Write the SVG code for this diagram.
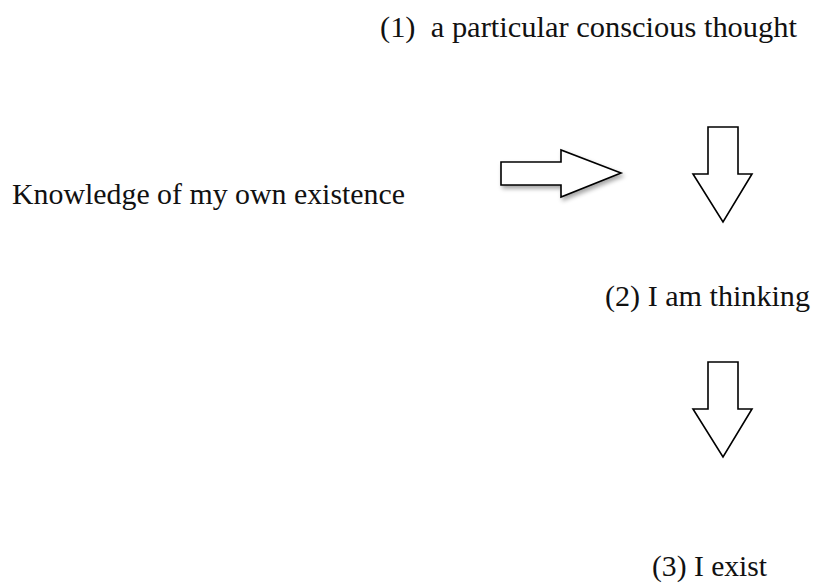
<svg xmlns="http://www.w3.org/2000/svg" width="816" height="584" viewBox="0 0 816 584">
<defs>
<style>
text{font-family:"Liberation Serif","Times New Roman",serif;font-size:29px;fill:#111;}
.arrow{fill:#fff;stroke:#000;stroke-width:1.6;stroke-linejoin:miter;}
</style>
<filter id="sh" x="-20%" y="-20%" width="150%" height="160%">
<feDropShadow dx="2" dy="3" stdDeviation="2" flood-color="#000" flood-opacity="0.35"/>
</filter>
</defs>
<rect width="816" height="584" fill="#fff"/>
<g id="n1"><text x="380" y="37" textLength="417" lengthAdjust="spacingAndGlyphs" xml:space="preserve">(1)  a particular conscious thought</text></g>
<g id="n0"><text x="12" y="204" textLength="393" lengthAdjust="spacingAndGlyphs">Knowledge of my own existence</text></g>
<g id="n2"><text x="605" y="306" textLength="205" lengthAdjust="spacingAndGlyphs">(2) I am thinking</text></g>
<g id="n3"><text x="652" y="576" textLength="115" lengthAdjust="spacingAndGlyphs">(3) I exist</text></g>
<g id="connectors">
<path class="arrow" filter="url(#sh)" d="M501,162 L561,162 L561,150 L621,173 L561,197 L561,185 L501,185 Z"/>
<path class="arrow" d="M708,127 L738,127 L738,174 L752,174 L723,222 L693,174 L708,174 Z"/>
<path class="arrow" d="M708,362 L738,362 L738,409 L752,409 L723,457 L693,409 L708,409 Z"/>
</g>
</svg>
